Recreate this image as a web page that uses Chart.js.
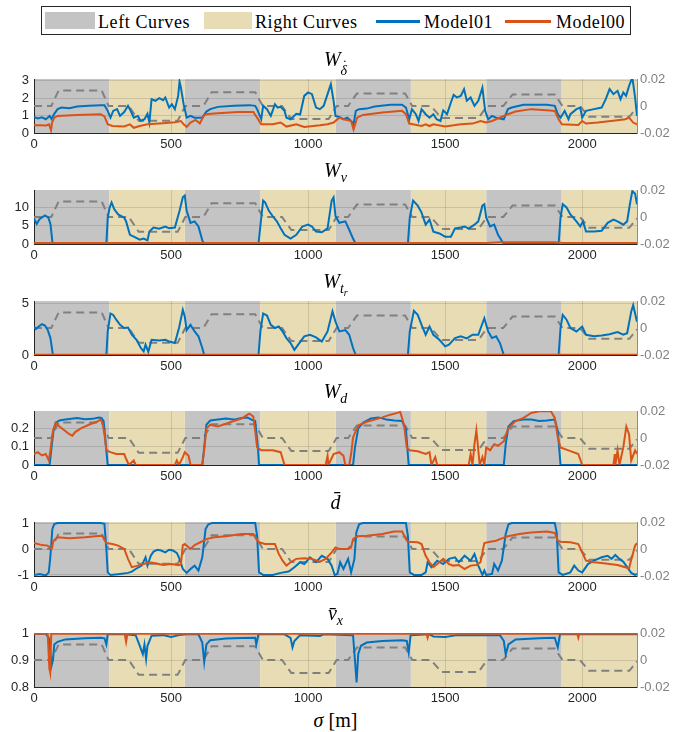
<!DOCTYPE html>
<html><head><meta charset="utf-8">
<script src="https://cdn.jsdelivr.net/npm/chart.js@4.4.1/dist/chart.umd.min.js"></script>
<style>
body{margin:0;background:#fff;width:683px;height:732px;position:relative;overflow:hidden;}
canvas{position:absolute;left:0;}
.ttl{position:absolute;left:34px;width:603px;text-align:center;font-family:"Liberation Serif",serif;font-size:20px;line-height:20px;color:#000;z-index:5;white-space:nowrap;}
.ttl sub{font-size:14px;vertical-align:-5px;line-height:0;}
.ttl sub.deep{vertical-align:-9px;}
.ttl sub sub{font-size:10px;vertical-align:-3px;}
.acc{position:relative;display:inline-block;}
.acc .dot{position:absolute;left:2px;top:-5px;font-style:normal;}
#legend{position:absolute;left:41px;top:6px;width:588px;height:27px;border:1px solid #262626;background:#fff;z-index:6;}
.lg{position:absolute;font-family:"Liberation Serif",serif;font-size:18px;letter-spacing:0.6px;line-height:18px;top:6px;color:#000;white-space:nowrap;}
.sw{position:absolute;}
</style></head>
<body>
<div id="legend">
  <div class="sw" style="left:3px;top:5px;width:50px;height:17px;background:#c4c4c4"></div>
  <div class="lg" style="left:56px">Left Curves</div>
  <div class="sw" style="left:162px;top:5px;width:48px;height:17px;background:#e8dcb4"></div>
  <div class="lg" style="left:213px">Right Curves</div>
  <div class="sw" style="left:334px;top:13px;width:44px;height:2.5px;background:#0072BD"></div>
  <div class="lg" style="left:382px">Model01</div>
  <div class="sw" style="left:463px;top:13px;width:46px;height:2.5px;background:#D95319"></div>
  <div class="lg" style="left:514px">Model00</div>
</div>
<canvas id="c0" width="683" height="96" style="top:59px"></canvas>
<canvas id="c1" width="683" height="96" style="top:170px"></canvas>
<canvas id="c2" width="683" height="96" style="top:281px"></canvas>
<canvas id="c3" width="683" height="96" style="top:391px"></canvas>
<canvas id="c4" width="683" height="96" style="top:502px"></canvas>
<canvas id="c5" width="683" height="96" style="top:613px"></canvas>
<div class="ttl" style="top:49px"><i>W</i><sub class="deep"><i class="acc">δ<span class="dot">˙</span></i></sub></div>
<div class="ttl" style="top:160px"><i>W</i><sub><i>v</i></sub></div>
<div class="ttl" style="top:271px"><i>W</i><sub><i>t<sub>r</sub></i></sub></div>
<div class="ttl" style="top:381px"><i>W</i><sub><i>d</i></sub></div>
<div class="ttl" style="top:492px"><i>d̄</i></div>
<div class="ttl" style="top:603px"><i>v̄</i><sub><i>x</i></sub></div>
<div class="ttl" style="top:710px"><i>σ</i> [m]</div>
<script>
// ---- data ----
const xTicks = [0, 500, 1000, 1500, 2000];
const rightTicks = [-0.02, 0, 0.02];
const leftCurves = [[0,275],[550,825],[1100,1375],[1650,1925]];
const rightCurves = [[275,550],[825,1100],[1375,1650],[1925,2200]];

const curvature = [[0,0],[63,0],[90,0.0115],[247,0.0115],[272,0],[346,0],[382,-0.011],[524,-0.011],[552,0],
 [618,0],[648,0.0102],[807,0.0102],[835,0],[905,0],[939,-0.0097],[1075,-0.0097],[1104,0],
 [1146,0],[1178,0.0092],[1354,0.0092],[1380,0],[1448,0],[1486,-0.0088],[1622,-0.0088],[1653,0],
 [1712,0],[1746,0.0085],[1900,0.0085],[1928,0],[1992,0],[2025,-0.008],[2172,-0.008],[2200,-0.001]];

const wdotTicks = [0,1,2,3];
const wdotBlue = [[0,0.92],[14,0.83],[29,0.9],[43,0.79],[57,0.98],[64,0.8],[74,1.1],[86,1.37],[100,1.46],[129,1.42],[157,1.52],[200,1.56],[243,1.6],[257,1.6],[269,1.27],[279,0.88],[289,1.27],[303,1.37],[314,0.98],[329,1.2],[343,1.56],[354,1.23],[364,0.88],[379,0.98],[389,0.69],[403,0.79],[414,1.1],[421,0.6],[429,1.94],[443,1.85],[457,2.0],[471,1.88],[479,2.04],[493,1.46],[503,1.65],[514,1.37],[526,2.13],[531,2.96],[536,2.6],[546,1.65],[557,0.88],
 [571,0.98],[586,0.88],[614,0.88],[629,1.23],[643,1.37],[671,1.5],[729,1.56],[786,1.6],[807,1.56],[814,1.37],[829,0.79],[836,1.56],[850,1.37],[864,0.98],[879,1.65],[889,1.46],[900,1.5],[914,1.27],[921,0.88],[936,0.79],[957,1.1],[971,1.06],[986,2.13],[1000,2.33],[1014,2.23],[1029,1.46],[1043,1.37],[1057,1.56],[1071,2.23],[1083,2.8],[1093,1.85],[1100,0.98],
 [1114,0.92],[1129,0.79],[1143,0.88],[1157,0.69],[1166,0.5],[1174,1.27],[1186,1.37],[1214,1.4],[1243,1.52],[1300,1.62],[1343,1.62],[1357,1.46],[1369,0.79],[1379,1.37],[1393,1.08],[1403,0.69],[1414,1.37],[1429,1.08],[1443,0.88],[1457,1.08],[1469,0.79],[1483,0.69],[1493,1.3],[1507,1.08],[1521,1.75],[1531,2.19],[1543,2.04],[1557,2.13],[1569,2.52],[1579,1.85],[1593,2.04],[1607,1.56],[1621,1.85],[1636,2.6],[1646,1.27],[1657,0.79],[1671,0.98],[1686,0.88],[1714,0.79],[1729,1.37],[1743,1.46],[1786,1.62],[1871,1.62],[1900,1.56],[1911,1.08],[1921,0.88],[1936,1.27],[1950,0.79],[1957,1.08],[1979,1.37],[1993,1.46],[2000,0.88],[2014,1.27],[2043,1.37],[2071,1.46],[2086,1.94],[2100,2.52],[2114,2.23],[2129,2.42],[2140,1.94],[2150,2.33],[2160,2.13],[2171,2.7],[2183,3.19],[2193,2.04],[2200,0.98]];
const wdotOrange = [[0,0.45],[20,0.45],[45,0.43],[55,0.5],[62,0.15],[66,0.6],[74,0.88],[86,0.98],[157,1.04],[243,1.08],[257,0.95],[269,0.5],[286,0.4],[329,0.37],[350,0.5],[364,0.3],[386,0.4],[414,0.5],[471,0.56],[514,0.62],[536,0.69],[546,0.5],[557,0.35],[571,0.6],[590,0.75],[605,0.55],[620,1.0],[629,1.08],[657,1.12],[743,1.21],[800,1.21],[814,0.88],[829,0.5],[871,0.5],[900,0.6],[921,0.37],[957,0.5],[986,0.35],[1043,0.44],[1071,0.5],[1093,0.6],[1114,0.88],[1129,0.79],[1157,0.69],[1166,0.2],[1179,0.88],[1200,1.04],[1271,1.17],[1343,1.27],[1357,1.08],[1369,0.54],[1414,0.4],[1429,0.5],[1443,0.4],[1457,0.5],[1500,0.37],[1557,0.5],[1600,0.54],[1629,0.69],[1650,0.6],[1671,0.69],[1729,1.08],[1757,1.23],[1814,1.37],[1871,1.3],[1900,1.27],[1914,0.79],[1926,0.5],[1986,0.46],[2000,0.69],[2014,0.54],[2057,0.6],[2129,0.73],[2157,0.79],[2171,0.88],[2186,0.6],[2200,0.5]];

const wvTicks = [0,5,10];
const wvBlue = [[0,7.0],[10,5.5],[20,6.8],[40,7.8],[52,7.3],[60,5.5],[68,0],[264,0],[269,7.2],[276,10],[283,11.4],[293,9.5],[307,8.1],[329,7.2],[336,6.2],[350,2.5],[364,2.0],[386,1.2],[400,1.5],[414,1.0],[421,3.4],[436,4.5],[457,4.2],[479,4.8],[493,4.3],[514,4.5],[531,9.1],[543,12.8],[550,13.3],[557,9.1],[571,5.8],[586,6.2],[600,4.8],[614,1.0],[621,0],[819,0],[829,7.2],[836,11.9],[843,11.4],[857,9.1],[871,7.6],[886,6.2],[900,4.3],[914,2.5],[936,1.5],[957,2.5],[979,4.8],[1000,5.3],[1014,4.8],[1029,3.4],[1050,3.2],[1071,4.3],[1086,11.9],[1093,12.8],[1100,7.6],[1114,5.8],[1136,6.2],[1150,3.9],[1164,1.5],[1174,0],[1364,0],[1371,7.2],[1383,11.9],[1400,10.5],[1414,8.6],[1429,5.3],[1443,6.7],[1457,3.4],[1479,2.9],[1500,2.0],[1521,2.0],[1536,4.3],[1557,4.5],[1571,4.8],[1586,4.2],[1607,5.3],[1621,6.2],[1636,10.5],[1643,10.9],[1650,7.2],[1664,4.8],[1679,5.3],[1693,2.5],[1714,0],[1914,0],[1921,7.2],[1929,10.9],[1943,10],[1957,8.1],[1979,6.2],[1993,4.8],[2003,6.2],[2014,3.4],[2043,3.4],[2071,3.6],[2093,5.8],[2114,6.7],[2129,6.2],[2150,5.3],[2164,6.2],[2174,10.9],[2183,14.5],[2193,13.8],[2200,10.9]];
const wvOrange = [[0,0.3],[1650,0.3],[1700,0.45],[1900,0.45],[1930,0.3],[2200,0.3]];

const wtrTicks = [0,5];
const wtrBlue = [[0,2.74],[7,2.5],[17,2.74],[29,2.96],[40,2.83],[50,2.42],[60,1.63],[69,0],[264,0],[269,2.27],[279,4.0],[289,3.86],[300,3.4],[314,2.9],[329,2.6],[343,2.65],[357,1.95],[374,1.47],[390,0.67],[400,0.35],[407,1.0],[417,0.3],[429,1.47],[457,1.4],[479,1.47],[493,1.3],[514,1.15],[529,2.6],[543,4.35],[550,3.7],[557,2.4],[571,2.9],[586,2.27],[600,1.8],[614,0.67],[621,0],[819,0],[826,2.27],[836,4.0],[850,3.8],[864,2.9],[879,2.6],[893,2.74],[907,2.27],[921,1.63],[936,1.15],[950,0.5],[964,1.0],[986,1.8],[1007,1.95],[1029,1.7],[1050,1.3],[1071,2.27],[1089,4.2],[1100,3.2],[1114,2.27],[1136,2.4],[1150,1.95],[1164,0.67],[1174,0],[1364,0],[1371,2.27],[1386,4.25],[1400,3.86],[1414,2.9],[1429,1.95],[1443,2.74],[1457,1.95],[1479,1.47],[1500,0.83],[1514,1.0],[1536,1.63],[1557,1.8],[1579,1.6],[1600,1.95],[1621,1.95],[1643,3.55],[1657,2.27],[1671,1.63],[1686,1.8],[1700,1.15],[1714,0],[1914,0],[1921,2.6],[1929,3.86],[1943,3.4],[1957,2.6],[1979,2.27],[2000,2.74],[2014,1.95],[2043,1.8],[2071,1.88],[2100,2.0],[2129,2.2],[2150,1.95],[2164,2.1],[2179,4.2],[2186,4.8],[2200,3.2]];
const wtrOrange = [[0,0.03],[2200,0.03]];

const wdTicks = [0,0.1,0.2];
const wdBlue = [[0,0],[57,0],[64,0.096],[71,0.186],[79,0.23],[93,0.243],[114,0.248],[143,0.254],[157,0.257],[186,0.25],[214,0.252],[236,0.26],[246,0.257],[254,0.24],[264,0.08],[269,0],[614,0],[621,0.096],[629,0.22],[643,0.243],[671,0.248],[700,0.254],[729,0.248],[757,0.257],[779,0.26],[793,0.248],[807,0.24],[817,0.096],[821,0],[1164,0],[1171,0.096],[1183,0.2],[1200,0.23],[1229,0.254],[1257,0.26],[1286,0.248],[1314,0.243],[1343,0.24],[1357,0.195],[1367,0],[1714,0],[1721,0.114],[1731,0.21],[1750,0.24],[1786,0.248],[1814,0.248],[1843,0.24],[1871,0.243],[1900,0.248],[1911,0.186],[1921,0],[2200,0]];
const wdOrange = [[0,0.06],[14,0.07],[29,0.052],[43,0.06],[54,0.025],[60,0.08],[69,0.186],[79,0.23],[93,0.21],[114,0.186],[129,0.168],[140,0.16],[150,0.18],[171,0.2],[200,0.22],[229,0.236],[243,0.248],[250,0.23],[257,0.168],[264,0.08],[279,0.07],[300,0.06],[329,0.06],[336,0.034],[346,0],[364,0.025],[371,0],[514,0],[521,0.025],[529,0],[543,0.043],[550,0.07],[564,0.05],[571,0],[614,0],[621,0.08],[629,0.2],[643,0.22],[671,0.21],[700,0.225],[729,0.24],[757,0.254],[779,0.275],[786,0.28],[800,0.265],[807,0.186],[814,0.096],[829,0.08],[871,0.08],[900,0.07],[914,0],[1064,0],[1071,0.05],[1074,0],[1093,0.06],[1114,0.07],[1129,0.05],[1136,0],[1150,0],[1157,0.06],[1164,0.15],[1174,0.186],[1186,0.218],[1214,0.236],[1243,0.248],[1271,0.26],[1300,0.275],[1329,0.286],[1336,0.29],[1350,0.22],[1360,0.096],[1371,0.08],[1400,0.075],[1429,0.06],[1443,0.07],[1450,0],[1464,0.043],[1471,0],[1586,0],[1593,0.06],[1600,0],[1607,0.114],[1614,0.19],[1619,0.114],[1626,0],[1636,0.043],[1643,0],[1650,0.096],[1664,0.08],[1679,0.114],[1693,0.105],[1714,0.13],[1729,0.195],[1743,0.22],[1757,0.24],[1786,0.257],[1814,0.284],[1843,0.293],[1886,0.293],[1900,0.257],[1911,0.15],[1921,0.096],[1950,0.08],[1986,0.06],[2000,0],[2114,0],[2119,0.06],[2121,0],[2129,0.08],[2136,0],[2150,0.096],[2161,0.21],[2171,0.168],[2179,0.025],[2193,0.08],[2200,0.06]];

const dbarTicks = [-1,0,1];
const dbarBlue = [[0,-1.0],[21,-0.96],[43,-1.02],[54,-0.9],[60,-0.26],[67,0.77],[74,0.96],[86,1.0],[243,1.0],[257,0.97],[264,0],[269,-0.9],[279,-1.0],[314,-0.96],[343,-0.92],[357,-0.87],[371,-0.77],[393,-0.64],[407,-0.32],[414,-0.64],[426,-0.26],[436,-0.1],[450,-0.03],[464,-0.06],[479,-0.13],[493,-0.03],[507,-0.06],[521,-0.15],[531,-0.38],[543,-0.77],[557,-0.92],[571,-0.77],[586,-0.64],[600,-0.83],[614,-0.32],[626,0.77],[636,0.95],[650,1.0],[807,1.0],[814,0.51],[821,-0.9],[836,-1.0],[871,-1.0],[900,-0.92],[929,-0.87],[950,-0.7],[971,-0.51],[986,-0.58],[1007,-0.32],[1029,-0.51],[1050,-0.26],[1071,-0.38],[1086,-0.64],[1097,-1.0],[1107,-0.96],[1117,-0.51],[1129,-0.77],[1146,-0.38],[1157,-0.9],[1169,-0.38],[1176,0.64],[1186,0.95],[1200,1.0],[1357,1.0],[1364,0.51],[1371,-0.9],[1386,-1.0],[1414,-1.0],[1429,-0.9],[1436,-0.51],[1450,-0.7],[1471,-0.45],[1493,-0.58],[1514,-0.38],[1536,-0.32],[1550,-0.51],[1571,-0.26],[1593,-0.45],[1607,-0.19],[1621,-0.64],[1636,-1.0],[1643,-0.83],[1650,-1.0],[1671,-0.96],[1679,-0.58],[1693,-0.83],[1707,-0.45],[1721,0.58],[1731,0.95],[1743,1.0],[1900,1.0],[1907,0.64],[1914,-0.9],[1929,-1.0],[1957,-0.9],[1971,-0.64],[1986,-0.83],[2000,-0.9],[2021,-0.58],[2043,-0.45],[2071,-0.32],[2093,-0.26],[2107,-0.38],[2121,-0.23],[2136,-0.38],[2150,-0.49],[2164,-0.7],[2179,-0.92],[2193,-1.0],[2200,-0.96]];
const dbarOrange = [[0,0.23],[29,0.15],[50,0.13],[64,0],[71,0.32],[86,0.45],[129,0.41],[186,0.45],[243,0.51],[250,0.49],[257,0.36],[264,0.23],[286,0.19],[307,0.13],[329,0],[343,-0.38],[357,-0.7],[379,-0.64],[400,-0.58],[421,-0.51],[443,-0.55],[471,-0.62],[500,-0.58],[529,-0.62],[536,-0.58],[543,0.15],[550,0.19],[571,0],[586,0.15],[607,0.26],[629,0.38],[657,0.45],[700,0.49],[757,0.58],[800,0.58],[811,0.38],[821,0.26],[843,0.19],[879,0.19],[893,-0.19],[907,-0.45],[921,-0.64],[936,-0.51],[957,-0.38],[986,-0.36],[1014,-0.38],[1043,-0.49],[1064,-0.38],[1086,-0.13],[1100,0.06],[1114,0],[1143,0],[1157,0.06],[1164,0.38],[1179,0.49],[1214,0.51],[1271,0.58],[1314,0.67],[1343,0.67],[1357,0.38],[1364,0.28],[1400,0.26],[1414,0.19],[1429,-0.26],[1443,-0.51],[1457,-0.7],[1471,-0.58],[1493,-0.38],[1514,-0.58],[1529,-0.64],[1550,-0.62],[1571,-0.77],[1593,-0.64],[1614,-0.62],[1629,-0.51],[1636,-0.13],[1643,0.23],[1664,0.28],[1686,0.32],[1700,0.38],[1729,0.49],[1771,0.58],[1814,0.64],[1871,0.67],[1900,0.62],[1911,0.32],[1921,0.28],[1957,0.26],[1986,0.19],[2000,-0.13],[2014,-0.45],[2043,-0.51],[2071,-0.54],[2100,-0.58],[2129,-0.62],[2157,-0.7],[2171,-0.74],[2183,-0.26],[2193,0.13],[2200,0.23]];

const vxTicks = [0.8,0.9,1];
const vxBlue = [[0,1.0],[43,1.0],[54,0.985],[60,0.924],[64,0.88],[69,0.9],[74,0.96],[86,0.97],[114,0.979],[186,0.983],[243,0.985],[257,0.983],[264,0.96],[269,0.998],[329,0.998],[371,0.995],[386,0.955],[397,0.924],[403,0.96],[409,0.906],[414,0.955],[429,0.993],[471,0.995],[500,0.988],[529,0.995],[557,0.998],[600,0.998],[614,0.967],[621,0.894],[629,0.96],[643,0.976],[700,0.982],[757,0.984],[807,0.985],[811,0.96],[819,0.998],[914,0.998],[936,0.985],[943,0.949],[950,0.973],[971,0.995],[1043,0.992],[1057,0.998],[1164,0.995],[1171,0.9],[1177,0.817],[1183,0.924],[1193,0.955],[1214,0.967],[1271,0.973],[1343,0.976],[1360,0.973],[1367,0.93],[1374,0.995],[1443,0.998],[1457,0.99],[1500,0.988],[1543,0.995],[1700,0.995],[1714,0.973],[1721,0.922],[1731,0.96],[1757,0.979],[1843,0.983],[1900,0.985],[1911,0.949],[1919,0.998],[2200,0.998]];
const vxOrange = [[0,1.0],[50,1.0],[56,0.87],[59,0.855],[63,1.0],[331,1.0],[336,0.97],[341,1.0],[1432,1.0],[1436,0.985],[1440,1.0],[1982,1.0],[1986,0.985],[1990,1.0],[2200,1.0]];

// ---- drawing ----
const GRAY_FILL = '#c4c4c4', TAN_FILL = '#e8dcb4';
const BLUE = '#0072BD', ORANGE = '#D95319', DASH = '#808080';
const toXY = a => a.map(p => ({x: p[0], y: p[1]}));
const shade = {
  id: 'shade',
  beforeDraw(chart) {
    const {ctx, chartArea: a, scales: {x}} = chart;
    ctx.save();
    const fill = (list, col) => list.forEach(([s, e]) => {
      const x0 = x.getPixelForValue(s), x1 = x.getPixelForValue(e);
      ctx.fillStyle = col;
      ctx.fillRect(x0, a.top, x1 - x0, a.bottom - a.top);
    });
    fill(leftCurves, GRAY_FILL);
    fill(rightCurves, TAN_FILL);
    ctx.restore();
  }
};
const tickFont = {family: '"Liberation Sans", Arial, sans-serif', size: 13};
const setTicks = arr => s => { s.ticks = arr.map(v => ({value: v})); };

function makeChart(id, blue, orange, ticks, ymin, ymax) {
  new Chart(document.getElementById(id), {
    type: 'line',
    data: {datasets: [
      {data: toXY(orange), borderColor: ORANGE, borderWidth: 2, pointRadius: 0, tension: 0, yAxisID: 'y', order: 1},
      {data: toXY(blue), borderColor: BLUE, borderWidth: 2, pointRadius: 0, tension: 0, yAxisID: 'y', order: 2},
      {data: toXY(curvature), borderColor: DASH, borderWidth: 2, borderDash: [8, 5], pointRadius: 0, tension: 0, yAxisID: 'y1', order: 3}
    ]},
    options: {
      responsive: false, animation: false, devicePixelRatio: 1,
      layout: {padding: {top: 20, left: 0, right: 0, bottom: 0}},
      plugins: {legend: {display: false}, tooltip: {enabled: false}},
      scales: {
        x: {type: 'linear', min: 0, max: 2200, afterBuildTicks: setTicks(xTicks),
            afterFit: s => { s.height = 22; },
            grid: {color: 'rgba(0,0,0,0.12)', drawTicks: false},
            border: {color: '#262626', width: 1},
            ticks: {font: tickFont, color: '#262626', padding: 4, maxRotation: 0, autoSkip: false, callback: v => String(v)}},
        y: {position: 'left', min: ymin, max: ymax, afterBuildTicks: setTicks(ticks),
            afterFit: s => { s.width = 34; },
            grid: {color: 'rgba(0,0,0,0.12)', drawTicks: false},
            border: {color: '#262626', width: 1},
            ticks: {font: tickFont, color: '#262626', padding: 5, autoSkip: false, callback: v => String(v)}},
        y1: {position: 'right', min: -0.02, max: 0.02, afterBuildTicks: setTicks(rightTicks),
            afterFit: s => { s.width = 46; },
            grid: {display: false, drawTicks: false},
            border: {color: '#8c8c8c', width: 1},
            ticks: {font: tickFont, color: '#808080', padding: 3, autoSkip: false, callback: v => String(v)}}
      }
    },
    plugins: [shade]
  });
}
makeChart('c0', wdotBlue, wdotOrange, wdotTicks, 0, 3.1);
makeChart('c1', wvBlue, wvOrange, wvTicks, 0, 14.8);
makeChart('c2', wtrBlue, wtrOrange, wtrTicks, 0, 5.2);
makeChart('c3', wdBlue, wdOrange, wdTicks, 0, 0.295);
makeChart('c4', dbarBlue, dbarOrange, dbarTicks, -1.04, 1.04);
makeChart('c5', vxBlue, vxOrange, vxTicks, 0.8, 1.003);
</script>
</body></html>
